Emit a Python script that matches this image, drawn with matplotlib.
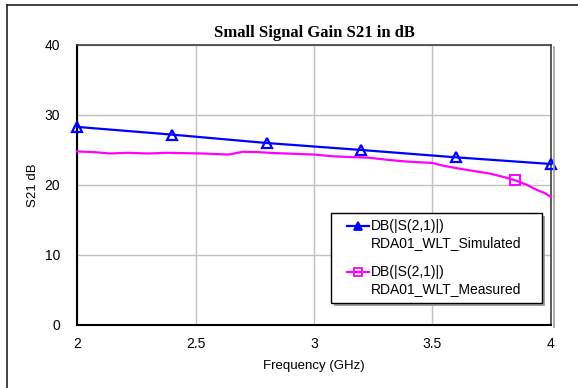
import matplotlib
matplotlib.use("Agg")
import matplotlib.pyplot as plt
from matplotlib.lines import Line2D
from matplotlib.patches import Rectangle

# ---- data ----
sim_freq = [2.0, 2.4, 2.8, 3.2, 3.6, 4.0]
sim_db = [28.3, 27.2, 26.0, 25.0, 23.95, 23.0]

meas_freq = [2.00, 2.07, 2.14, 2.21, 2.30, 2.38, 2.45, 2.53, 2.64, 2.70, 2.76,
             2.84, 2.92, 3.00, 3.08, 3.15, 3.23, 3.31, 3.39, 3.50, 3.54, 3.57,
             3.62, 3.70, 3.74, 3.80, 3.85, 3.90, 3.94, 3.97, 4.00]
meas_db = [24.8, 24.7, 24.5, 24.6, 24.5, 24.6, 24.55, 24.5, 24.35, 24.75, 24.7,
           24.55, 24.45, 24.35, 24.1, 24.0, 23.9, 23.6, 23.35, 23.15, 22.8, 22.6,
           22.3, 21.85, 21.65, 21.15, 20.65, 20.0, 19.3, 18.9, 18.3]
meas_marker_freq = [3.85]

x_ticks = [2, 2.5, 3, 3.5, 4]
x_ticklabels = ["2", "2.5", "3", "3.5", "4"]
y_ticks = [0, 10, 20, 30, 40]

title = "Small Signal Gain S21 in dB"
xlabel = "Frequency (GHz)"
ylabel = "S21 dB"
leg1 = ["DB(|S(2,1)|)", "RDA01_WLT_Simulated"]
leg2 = ["DB(|S(2,1)|)", "RDA01_WLT_Measured"]

W, H = 578, 388
fig = plt.figure(figsize=(W / 100, H / 100), dpi=100)
fig.patch.set_facecolor("white")


def fx(x):
    return x / W


def fy(y):
    return 1 - y / H


# outer border (extends beyond bottom/right of image)
fig.add_artist(Line2D([fx(7), fx(7)], [fy(5), fy(400)], color="#222222", lw=1.2,
                      transform=fig.transFigure))
fig.add_artist(Line2D([fx(7), fx(590)], [fy(5), fy(5)], color="#222222", lw=1.2,
                      transform=fig.transFigure))

ax = fig.add_axes([fx(77), fy(325), fx(551) - fx(77), fy(45) - fy(325)])
ax.set_xlim(2, 4)
ax.set_ylim(0, 40)
ax.set_xticks(x_ticks)
ax.set_xticklabels(x_ticklabels)
ax.set_yticks(y_ticks)
ax.grid(True, color="#c0c0c0", lw=1.0)
ax.set_axisbelow(True)
ax.tick_params(length=0, labelsize=10)
for lab in ax.get_xticklabels() + ax.get_yticklabels():
    lab.set_family("Liberation Sans")
ax.tick_params(axis="y", pad=12)
ax.tick_params(axis="x", pad=9)

for s in ["left", "bottom"]:
    ax.spines[s].set_color("#000000")
    ax.spines[s].set_linewidth(1.5)
for s in ["top", "right"]:
    ax.spines[s].set_color("#404040")
    ax.spines[s].set_linewidth(1.2)
# shadow on right edge
fig.add_artist(Line2D([fx(553.5), fx(553.5)], [fy(47), fy(327)], color="#a0a0a0", lw=1.2,
                      transform=fig.transFigure))

ax.plot(meas_freq, meas_db, color="#ff00ff", lw=1.6, clip_on=False, zorder=3)
mi = [meas_freq.index(f) for f in meas_marker_freq]
ax.plot([meas_freq[i] for i in mi], [meas_db[i] for i in mi], ls="none", marker="s",
        ms=7.5, mfc="none", mec="#ff00ff", mew=1.4, clip_on=False, zorder=4)
ax.plot(sim_freq, sim_db, color="#0000ff", lw=1.6, marker="^", ms=7.5, mfc="none",
        mec="#0000ff", mew=1.6, clip_on=False, zorder=5)

ax.set_title(title, fontfamily="Liberation Serif", fontweight="bold", fontsize=12, pad=6)
ax.set_xlabel(xlabel, fontfamily="Liberation Sans", fontsize=9.5, labelpad=6)
ax.set_ylabel(ylabel, fontfamily="Liberation Sans", fontsize=9.5, labelpad=4)

# ---- legend (drawn manually) ----
tf = fig.transFigure
lx0, ly0, lx1, ly1 = 331, 213, 542, 303
shadow = Rectangle((fx(lx0 + 3), fy(ly1 + 3)), fx(lx1) - fx(lx0), fy(ly0) - fy(ly1),
                   transform=tf, facecolor="#a0a0a0", edgecolor="none", zorder=10)
box = Rectangle((fx(lx0), fy(ly1)), fx(lx1) - fx(lx0), fy(ly0) - fy(ly1),
                transform=tf, facecolor="white", edgecolor="black", lw=1.0, zorder=11)
fig.add_artist(shadow)
fig.add_artist(box)

entries = [(leg1, "#0000ff", "^", 226), (leg2, "#ff00ff", "s", 272)]
for texts, col, mk, yy in entries:
    fig.add_artist(Line2D([fx(347), fx(369)], [fy(yy), fy(yy)], color=col, lw=1.6,
                          transform=tf, zorder=12))
    fig.add_artist(Line2D([fx(358)], [fy(yy)], color=col, marker=mk, ms=6,
                          mfc=col if mk == "^" else "none", mec=col, mew=1.3,
                          ls="none", transform=tf, zorder=12))
    fig.text(fx(371), fy(yy), texts[0], fontfamily="Liberation Sans", fontsize=10,
             va="center", ha="left", zorder=12)
    fig.text(fx(371), fy(yy + 17), texts[1], fontfamily="Liberation Sans", fontsize=10,
             va="center", ha="left", zorder=12)

fig.savefig("out.png", dpi=100)
